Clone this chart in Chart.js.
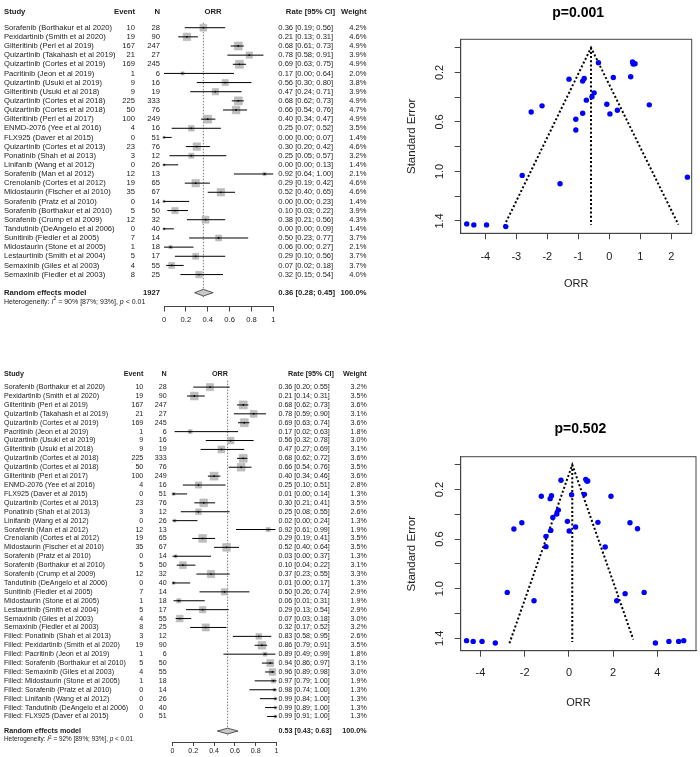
<!DOCTYPE html>
<html>
<head>
<meta charset="utf-8">
<script src="https://cdn.jsdelivr.net/npm/chart.js@4.4.1/dist/chart.umd.min.js"></script>
<style>
html,body{margin:0;padding:0;background:#ffffff;}
#wrap{position:relative;width:700px;height:757px;overflow:hidden;background:#fff;}
canvas{position:absolute;}
</style>
</head>
<body>
<div id="wrap">
<canvas id="forest1" width="370" height="330" style="left:0px;top:0px"></canvas>
<canvas id="forest2" width="370" height="417" style="left:0px;top:340px"></canvas>
<canvas id="funnel1" width="330" height="330" style="left:370px;top:0px"></canvas>
<canvas id="funnel2" width="330" height="357" style="left:370px;top:400px"></canvas>
</div>
<script>
// ---------------- DATA: forest plot 1 (original studies) ----------------
const studies1 = [
  "Sorafenib (Borthakur et al 2020)", "Pexidartinib (Smith et al 2020)", "Gilteritinib (Perl et al 2019)",
  "Quizartinib (Takahash et al 2019)", "Quizartinib (Cortes et al 2019)", "Pacritinib (Jeon et al 2019)",
  "Quizartinib (Usuki et al 2019)", "Gilteritinib (Usuki et al 2018)", "Quizartinib (Cortes et al 2018)",
  "Quizartinib (Cortes et al 2018)", "Gilteritinib (Perl et al 2017)", "ENMD-2076 (Yee et al 2016)",
  "FLX925 (Daver et al 2015)", "Quizartinib (Cortes et al 2013)", "Ponatinib (Shah et al 2013)",
  "Linifanib (Wang et al 2012)", "Sorafenib (Man et al 2012)", "Crenolanib (Cortes et al 2012)",
  "Midostaurin (Fischer et al 2010)", "Sorafenib (Pratz et al 2010)", "Sorafenib (Borthakur et al 2010)",
  "Sorafenib (Crump et al 2009)", "Tandutinib (DeAngelo et al 2006)", "Sunitinib (Fiedler et al 2005)",
  "Midostaurin (Stone et al 2005)", "Lestaurtinib (Smith et al 2004)", "Semaxinib (Giles et al 2003)",
  "Semaxinib (Fiedler et al 2003)"
];
const events1 = [10,19,167,21,169,1,9,9,225,50,100,4,0,23,3,0,12,19,35,0,5,12,0,7,1,5,4,8];
const totals1 = [28,90,247,27,245,6,16,19,333,76,249,16,51,76,12,26,13,65,67,14,50,32,40,14,18,17,55,25];
const rate1   = [0.36,0.21,0.68,0.78,0.69,0.17,0.56,0.47,0.68,0.66,0.40,0.25,0.00,0.30,0.25,0.00,0.92,0.29,0.52,0.00,0.10,0.38,0.00,0.50,0.06,0.29,0.07,0.32];
const lower1  = [0.19,0.13,0.61,0.58,0.63,0.00,0.30,0.24,0.62,0.54,0.34,0.07,0.00,0.20,0.05,0.00,0.64,0.19,0.40,0.00,0.03,0.21,0.00,0.23,0.00,0.10,0.02,0.15];
const upper1  = [0.56,0.31,0.73,0.91,0.75,0.64,0.80,0.71,0.73,0.76,0.47,0.52,0.07,0.42,0.57,0.13,1.00,0.42,0.65,0.23,0.22,0.56,0.09,0.77,0.27,0.56,0.18,0.54];
const weight1 = [4.2,4.6,4.9,3.9,4.9,2.0,3.8,3.9,4.9,4.7,4.9,3.5,1.4,4.6,3.2,1.4,2.1,4.6,4.6,1.4,3.9,4.3,1.4,3.7,2.1,3.7,3.7,4.0];
const total1 = 1927;
const summary1 = [0.36, 0.28, 0.45];      // rate, lower, upper
const summaryWeight1 = "100.0%";
const het1 = [90, 87, 93];                 // I^2, lower, upper (%)
const hetP1 = "< 0.01";

// ---------------- DATA: forest plot 2 (trim-and-fill) ----------------
const studies2 = [
  "Sorafenib (Borthakur et al 2020)", "Pexidartinib (Smith et al 2020)", "Gilteritinib (Perl et al 2019)",
  "Quizartinib (Takahash et al 2019)", "Quizartinib (Cortes et al 2019)", "Pacritinib (Jeon et al 2019)",
  "Quizartinib (Usuki et al 2019)", "Gilteritinib (Usuki et al 2018)", "Quizartinib (Cortes et al 2018)",
  "Quizartinib (Cortes et al 2018)", "Gilteritinib (Perl et al 2017)", "ENMD-2076 (Yee et al 2016)",
  "FLX925 (Daver et al 2015)", "Quizartinib (Cortes et al 2013)", "Ponatinib (Shah et al 2013)",
  "Linifanib (Wang et al 2012)", "Sorafenib (Man et al 2012)", "Crenolanib (Cortes et al 2012)",
  "Midostaurin (Fischer et al 2010)", "Sorafenib (Pratz et al 2010)", "Sorafenib (Borthakur et al 2010)",
  "Sorafenib (Crump et al 2009)", "Tandutinib (DeAngelo et al 2006)", "Sunitinib (Fiedler et al 2005)",
  "Midostaurin (Stone et al 2005)", "Lestaurtinib (Smith et al 2004)", "Semaxinib (Giles et al 2003)",
  "Semaxinib (Fiedler et al 2003)",
  "Filled: Ponatinib (Shah et al 2013)", "Filled: Pexidartinib (Smith et al 2020)", "Filled: Pacritinib (Jeon et al 2019)",
  "Filled: Sorafenib (Borthakur et al 2010)", "Filled: Semaxinib (Giles et al 2003)", "Filled: Midostaurin (Stone et al 2005)",
  "Filled: Sorafenib (Pratz et al 2010)", "Filled: Linifanib (Wang et al 2012)", "Filled: Tandutinib (DeAngelo et al 2006)",
  "Filled: FLX925 (Daver et al 2015)"
];
const events2 = [10,19,167,21,169,1,9,9,225,50,100,4,0,23,3,0,12,19,35,0,5,12,0,7,1,5,4,8, 3,19,1,5,4,1,0,0,0,0];
const totals2 = [28,90,247,27,245,6,16,19,333,76,249,16,51,76,12,26,13,65,67,14,50,32,40,14,18,17,55,25, 12,90,6,50,55,18,14,26,40,51];
const rate2   = [0.36,0.21,0.68,0.78,0.69,0.17,0.56,0.47,0.68,0.66,0.40,0.25,0.01,0.30,0.25,0.02,0.92,0.29,0.52,0.03,0.10,0.37,0.01,0.50,0.06,0.29,0.07,0.32, 0.83,0.86,0.89,0.94,0.96,0.97,0.98,0.99,0.99,0.99];
const lower2  = [0.20,0.14,0.62,0.59,0.63,0.02,0.32,0.27,0.62,0.54,0.34,0.10,0.00,0.21,0.08,0.00,0.61,0.19,0.40,0.00,0.04,0.23,0.00,0.26,0.01,0.13,0.03,0.17, 0.58,0.79,0.49,0.86,0.89,0.79,0.74,0.84,0.89,0.91];
const upper2  = [0.55,0.31,0.73,0.90,0.74,0.63,0.78,0.69,0.72,0.76,0.46,0.51,0.14,0.41,0.55,0.24,0.99,0.41,0.64,0.37,0.22,0.55,0.17,0.74,0.31,0.54,0.18,0.52, 0.95,0.91,0.99,0.97,0.98,1.00,1.00,1.00,1.00,1.00];
const weight2 = [3.2,3.5,3.6,3.1,3.6,1.8,3.0,3.1,3.6,3.5,3.6,2.8,1.3,3.5,2.6,1.3,1.9,3.5,3.5,1.3,3.1,3.3,1.3,2.9,1.9,2.9,3.0,3.2, 2.6,3.5,1.8,3.1,3.0,1.9,1.3,1.3,1.3,1.3];
const summary2 = [0.53, 0.43, 0.63];
const summaryWeight2 = "100.0%";
const het2 = [92, 89, 93];
const hetP2 = "< 0.01";

const forestTicks = [0, 0.2, 0.4, 0.6, 0.8, 1];
const forestTickLabels = ["0", "0.2", "0.4", "0.6", "0.8", "1"];

// ---------------- DATA: funnel plots ----------------
const funnel1Title = "p=0.001";
const funnel1X  = [-4.60,-4.37,-3.96,-3.34,-2.81,-2.52,-2.17,-1.59,-1.30,-1.08,-1.08,-0.86,-0.81,-0.86,-0.74,-0.56,-0.49,-0.35,-0.08,0.02,0.13,0.26,0.69,0.75,0.77,0.83,1.29,2.52];
const funnel1SE = [1.424,1.432,1.432,1.446,1.032,0.519,0.470,1.100,0.254,0.578,0.665,0.270,0.249,0.530,0.424,0.397,0.365,0.122,0.457,0.535,0.241,0.505,0.235,0.116,0.132,0.130,0.462,1.046];
const funnel1LineX  = [-3.39,-0.59,2.23, null, -0.59,-0.59];
const funnel1LineSE = [1.44, 0.00, 1.43, null, 0.00, 1.43];

const funnel2Title = "p=0.502";
const funnel2X  = [-4.63,-4.33,-3.93,-3.33,-2.79,-2.49,-2.13,-1.58,-1.25,-1.04,-1.04,-0.85,-0.79,-0.82,-0.73,-0.55,-0.48,-0.36,-0.07,0.01,0.12,0.30,0.70,0.76,0.81,0.85,1.31,1.64,1.90,2.16,2.54,2.76,3.10,3.40,3.91,4.52,4.96,5.19];
const funnel2SE = [1.419,1.425,1.425,1.438,1.030,0.519,0.468,1.097,0.255,0.578,0.661,0.274,0.250,0.530,0.425,0.398,0.366,0.126,0.457,0.535,0.242,0.503,0.239,0.118,0.132,0.132,0.465,0.664,0.255,1.097,1.040,0.468,0.516,1.030,1.438,1.425,1.425,1.419];
const funnel2LineX  = [-2.69,0.15,2.91, null, 0.15,0.15];
const funnel2LineSE = [1.44, 0.00, 1.41, null, 0.00, 1.43];

const funnel1XTicks = [-4,-3,-2,-1,0,1,2];
const funnel2XTicks = [-4,-2,0,2,4];
const funnelYTicks = [0,0.2,0.4,0.6,0.8,1.0,1.2,1.4];
const funnelYLabels = ["","0.2","","0.6","","1.0","","1.4"];

// ---------------- STYLE / RENDERING ----------------
const FAM = '"Liberation Sans", Arial, Helvetica, sans-serif';
const TEXT = '#222222';
const AXIS = '#444444';
Chart.defaults.font.family = FAM;
Chart.defaults.color = TEXT;

const fmt = v => v.toFixed(2);

function forestPlugin(o) {
  return {
    id: 'forestText',
    afterDraw(chart) {
      const ctx = chart.ctx, ys = chart.scales.y;
      const n = o.rate.length;
      const yRow = i => ys.getPixelForValue(i + 1);
      const yHead = yRow(0) - o.headOff;
      const ySum = yRow(n - 1) + o.sumGap;
      const yHet = yRow(n - 1) + o.hetGap;
      const reg = o.font + 'px ' + FAM;
      const bold = 'bold ' + o.bold + 'px ' + FAM;
      ctx.save();
      ctx.fillStyle = TEXT;
      ctx.textBaseline = 'middle';
      const t = (s, x, y, align, font) => { ctx.font = font; ctx.textAlign = align; ctx.fillText(s, x, y); };
      t('Study', o.cStudy, yHead, 'left', bold);
      t('Event', o.cEvent, yHead, 'right', bold);
      t('N', o.cN, yHead, 'right', bold);
      t('ORR', o.cOrr, yHead, 'center', bold);
      t('Rate [95% CI]', o.cRateHead, yHead, 'right', bold);
      t('Weight', o.cWeight, yHead, 'right', bold);
      for (let i = 0; i < n; i++) {
        const y = yRow(i);
        t(o.studies[i], o.cStudy, y, 'left', reg);
        t(String(o.events[i]), o.cEvent, y, 'right', reg);
        t(String(o.totals[i]), o.cN, y, 'right', reg);
        t(fmt(o.rate[i]) + ' [' + fmt(o.lower[i]) + '; ' + fmt(o.upper[i]) + ']', o.cRate, y, 'left', reg);
        t(o.weight[i].toFixed(1) + '%', o.cWeight, y, 'right', reg);
      }
      t('Random effects model', o.cStudy, ySum, 'left', bold);
      if (o.total !== null) t(String(o.total), o.cN, ySum, 'right', bold);
      t(fmt(o.summary[0]) + ' [' + fmt(o.summary[1]) + '; ' + fmt(o.summary[2]) + ']', o.cRate, ySum, 'left', bold);
      t(o.summaryWeight, o.cWeight, ySum, 'right', bold);
      // heterogeneity line
      const hs = o.hetFont;
      const hreg = hs + 'px ' + FAM, hit = 'italic ' + hs + 'px ' + FAM, hsup = (hs * 0.72).toFixed(2) + 'px ' + FAM;
      const parts = [
        ['Heterogeneity: ', hreg, 0], ['I', hit, 0], ['2', hsup, -hs * 0.35],
        [' = ' + o.het[0] + '% [' + o.het[1] + '%; ' + o.het[2] + '%], ', hreg, 0],
        ['p', hit, 0], [' ' + o.hetP, hreg, 0]
      ];
      let x = o.cStudy;
      ctx.textAlign = 'left';
      for (const [s, f, dy] of parts) {
        ctx.font = f;
        ctx.fillText(s, x, yHet + dy);
        x += ctx.measureText(s).width;
      }
      ctx.restore();
    }
  };
}

function makeForest(id, o) {
  const canvas = document.getElementById(id);
  const W = canvas.width, H = canvas.height;
  const n = o.rate.length;
  const yMin = 1 - o.row1px / o.rowStep;
  const yMax = yMin + o.axisPx / o.rowStep;
  const wmax = Math.max(...o.weight);
  const pts = o.rate.map((r, i) => ({ x: r, y: i + 1 }));
  const ci = [];
  o.lower.forEach((l, i) => { ci.push({ x: l, y: i + 1 }, { x: o.upper[i], y: i + 1 }, { x: null, y: null }); });
  const sumRow = n + o.sumGap / o.rowStep;
  const dh = o.diamondHalf / o.rowStep;
  const s = o.summary;
  const diamond = [
    { x: s[1], y: sumRow }, { x: s[0], y: sumRow - dh }, { x: s[2], y: sumRow },
    { x: s[0], y: sumRow + dh }, { x: s[1], y: sumRow }
  ];
  const refLine = [{ x: s[0], y: 1 - o.refTop / o.rowStep }, { x: s[0], y: n + o.refBot / o.rowStep }];
  new Chart(canvas, {
    type: 'scatter',
    data: {
      datasets: [
        { data: pts, pointStyle: 'circle', pointRadius: 0.9, backgroundColor: '#000', borderWidth: 0, order: 1, clip: false },
        { data: ci, showLine: true, spanGaps: false, pointRadius: 0, borderColor: '#000', borderWidth: 1, order: 2, clip: false },
        { data: diamond, showLine: true, pointRadius: 0, borderColor: '#333', borderWidth: 0.8, backgroundColor: '#c8c8c8', fill: 'shape', order: 3, clip: false },
        { data: pts, pointStyle: 'rect', pointRadius: o.weight.map(w => o.maxSide * w / wmax / Math.SQRT2), backgroundColor: '#bebebe', borderColor: '#b0b0b0', borderWidth: 0.5, order: 4, clip: false },
        { data: refLine, showLine: true, pointRadius: 0, borderColor: '#777', borderWidth: 1, borderDash: [1.5, 1.5], order: 5, clip: false }
      ]
    },
    options: {
      responsive: false, animation: false, events: [],
      layout: { padding: { left: o.x0px, right: W - o.x1px, top: 0, bottom: H - o.axisPx - o.xAxisH } },
      plugins: { legend: { display: false }, tooltip: { enabled: false }, title: { display: false } },
      scales: {
        x: {
          type: 'linear', min: 0, max: 1, position: 'bottom',
          afterFit: sc => { sc.height = o.xAxisH; },
          afterBuildTicks: sc => { sc.ticks = forestTicks.map(v => ({ value: v })); },
          ticks: { callback: (v, i) => forestTickLabels[i], font: { size: o.font }, color: TEXT, padding: o.tickPad, maxRotation: 0, autoSkip: false },
          grid: { display: true, drawOnChartArea: false, drawTicks: true, tickLength: o.tickLen, color: AXIS, lineWidth: 1 },
          border: { display: true, color: AXIS, width: 1 }
        },
        y: { type: 'linear', display: false, reverse: true, min: yMin, max: yMax }
      }
    },
    plugins: [forestPlugin(o)]
  });
}

function funnelPlugin(o) {
  return {
    id: 'funnelDeco',
    afterDraw(chart) {
      const ctx = chart.ctx, a = chart.chartArea, ys = chart.scales.y;
      ctx.save();
      ctx.strokeStyle = AXIS; ctx.lineWidth = 1;
      ctx.strokeRect(a.left, a.top, a.right - a.left, a.bottom - a.top);
      ctx.fillStyle = '#000';
      ctx.font = 'bold 14px ' + FAM;
      ctx.textAlign = 'center'; ctx.textBaseline = 'middle';
      ctx.fillText(o.title, (a.left + a.right) / 2 + 2, o.titleY);
      ctx.fillStyle = TEXT;
      ctx.font = '11px ' + FAM;
      funnelYTicks.forEach((v, i) => {
        const lab = funnelYLabels[i];
        if (!lab) return;
        const y = ys.getPixelForValue(v);
        ctx.save();
        ctx.translate(o.yLabelX, y);
        ctx.rotate(-Math.PI / 2);
        ctx.fillText(lab, 0, 0);
        ctx.restore();
      });
      ctx.restore();
    }
  };
}

function makeFunnel(id, o) {
  const canvas = document.getElementById(id);
  const W = canvas.width, H = canvas.height;
  const pts = o.xs.map((x, i) => ({ x: x, y: o.se[i] }));
  const lines = o.lineX.map((x, i) => ({ x: x, y: o.lineSE[i] }));
  new Chart(canvas, {
    type: 'scatter',
    data: {
      datasets: [
        { data: pts, pointRadius: 2.7, backgroundColor: '#0000ff', borderWidth: 0, order: 1 },
        { data: lines, showLine: true, spanGaps: false, pointRadius: 0, borderColor: '#000', borderWidth: 2, borderDash: [2, 2.2], order: 2 }
      ]
    },
    options: {
      responsive: false, animation: false, events: [],
      layout: { padding: { left: 0, right: W - o.areaRight, top: o.areaTop, bottom: H - o.areaBottom - o.xAxisH } },
      plugins: { legend: { display: false }, tooltip: { enabled: false } },
      scales: {
        x: {
          type: 'linear', min: o.xMin, max: o.xMax, position: 'bottom',
          afterFit: sc => { sc.height = o.xAxisH; },
          afterBuildTicks: sc => { sc.ticks = o.xTicks.map(v => ({ value: v })); },
          ticks: { font: { size: 11 }, color: TEXT, padding: o.xTickPad, maxRotation: 0, autoSkip: false },
          grid: { display: true, drawOnChartArea: false, drawTicks: true, tickLength: 6, color: AXIS },
          border: { display: true, color: AXIS },
          title: { display: true, text: 'ORR', font: { size: 11 }, color: TEXT, padding: { top: 0, bottom: o.xTitlePadB } }
        },
        y: {
          type: 'linear', reverse: true, min: o.yMin, max: o.yMax, position: 'left',
          afterFit: sc => { sc.width = o.areaLeft; },
          afterBuildTicks: sc => { sc.ticks = funnelYTicks.map(v => ({ value: v })); },
          ticks: { display: false },
          grid: { display: true, drawOnChartArea: false, drawTicks: true, tickLength: 6, color: AXIS },
          border: { display: true, color: AXIS },
          title: { display: true, text: 'Standard Error', font: { size: 11.5 }, color: TEXT, padding: { top: 34.8, bottom: 0 } }
        }
      }
    },
    plugins: [funnelPlugin(o)]
  });
}

makeForest('forest1', {
  studies: studies1, events: events1, totals: totals1, rate: rate1, lower: lower1, upper: upper1, weight: weight1,
  total: total1, summary: summary1, summaryWeight: summaryWeight1, het: het1, hetP: hetP1,
  x0px: 164, x1px: 273.3, row1px: 22, rowStep: 9.33, axisPx: 306.5, xAxisH: 20, tickLen: 5, tickPad: 3.9,
  headOff: 16, sumGap: 18.5, hetGap: 27, refTop: 5, refBot: 23, diamondHalf: 3.4, maxSide: 8,
  font: 7.6, bold: 7.7, hetFont: 7.0,
  cStudy: 4, cEvent: 135, cN: 160, cOrr: 213, cRate: 278.3, cRateHead: 335, cWeight: 366.5
});

makeForest('forest2', {
  studies: studies2, events: events2, totals: totals2, rate: rate2, lower: lower2, upper: upper2, weight: weight2,
  total: null, summary: summary2, summaryWeight: summaryWeight2, het: het2, hetP: hetP2,
  x0px: 172.5, x1px: 276.5, row1px: 41.6, rowStep: 9.04, axisPx: 402, xAxisH: 15, tickLen: 4, tickPad: 1.2,
  headOff: 12.6, sumGap: 14.8, hetGap: 23, refTop: 6.6, refBot: 19.3, diamondHalf: 2.9, maxSide: 8,
  font: 7.1, bold: 7.2, hetFont: 6.4,
  cStudy: 4, cEvent: 143.3, cN: 166.7, cOrr: 220, cRate: 278.5, cRateHead: 334, cWeight: 366.7
});

makeFunnel('funnel1', {
  xs: funnel1X, se: funnel1SE, lineX: funnel1LineX, lineSE: funnel1LineSE, xTicks: funnel1XTicks, title: funnel1Title,
  xMin: -4.794, xMax: 2.658, yMin: -0.068, yMax: 1.5,
  areaLeft: 90.7, areaRight: 321.7, areaTop: 39.3, areaBottom: 233.3, xAxisH: 60, xTickPad: 10.8, xTitlePadB: 2.4,
  titleY: 13, yLabelX: 70
});

makeFunnel('funnel2', {
  xs: funnel2X, se: funnel2SE, lineX: funnel2LineX, lineSE: funnel2LineSE, xTicks: funnel2XTicks, title: funnel2Title,
  xMin: -4.895, xMax: 5.745, yMin: -0.0645, yMax: 1.5,
  areaLeft: 90.7, areaRight: 328.3, areaTop: 56.7, areaBottom: 250.7, xAxisH: 60, xTickPad: 10, xTitlePadB: 1.4,
  titleY: 29, yLabelX: 70
});
</script>
</body>
</html>
